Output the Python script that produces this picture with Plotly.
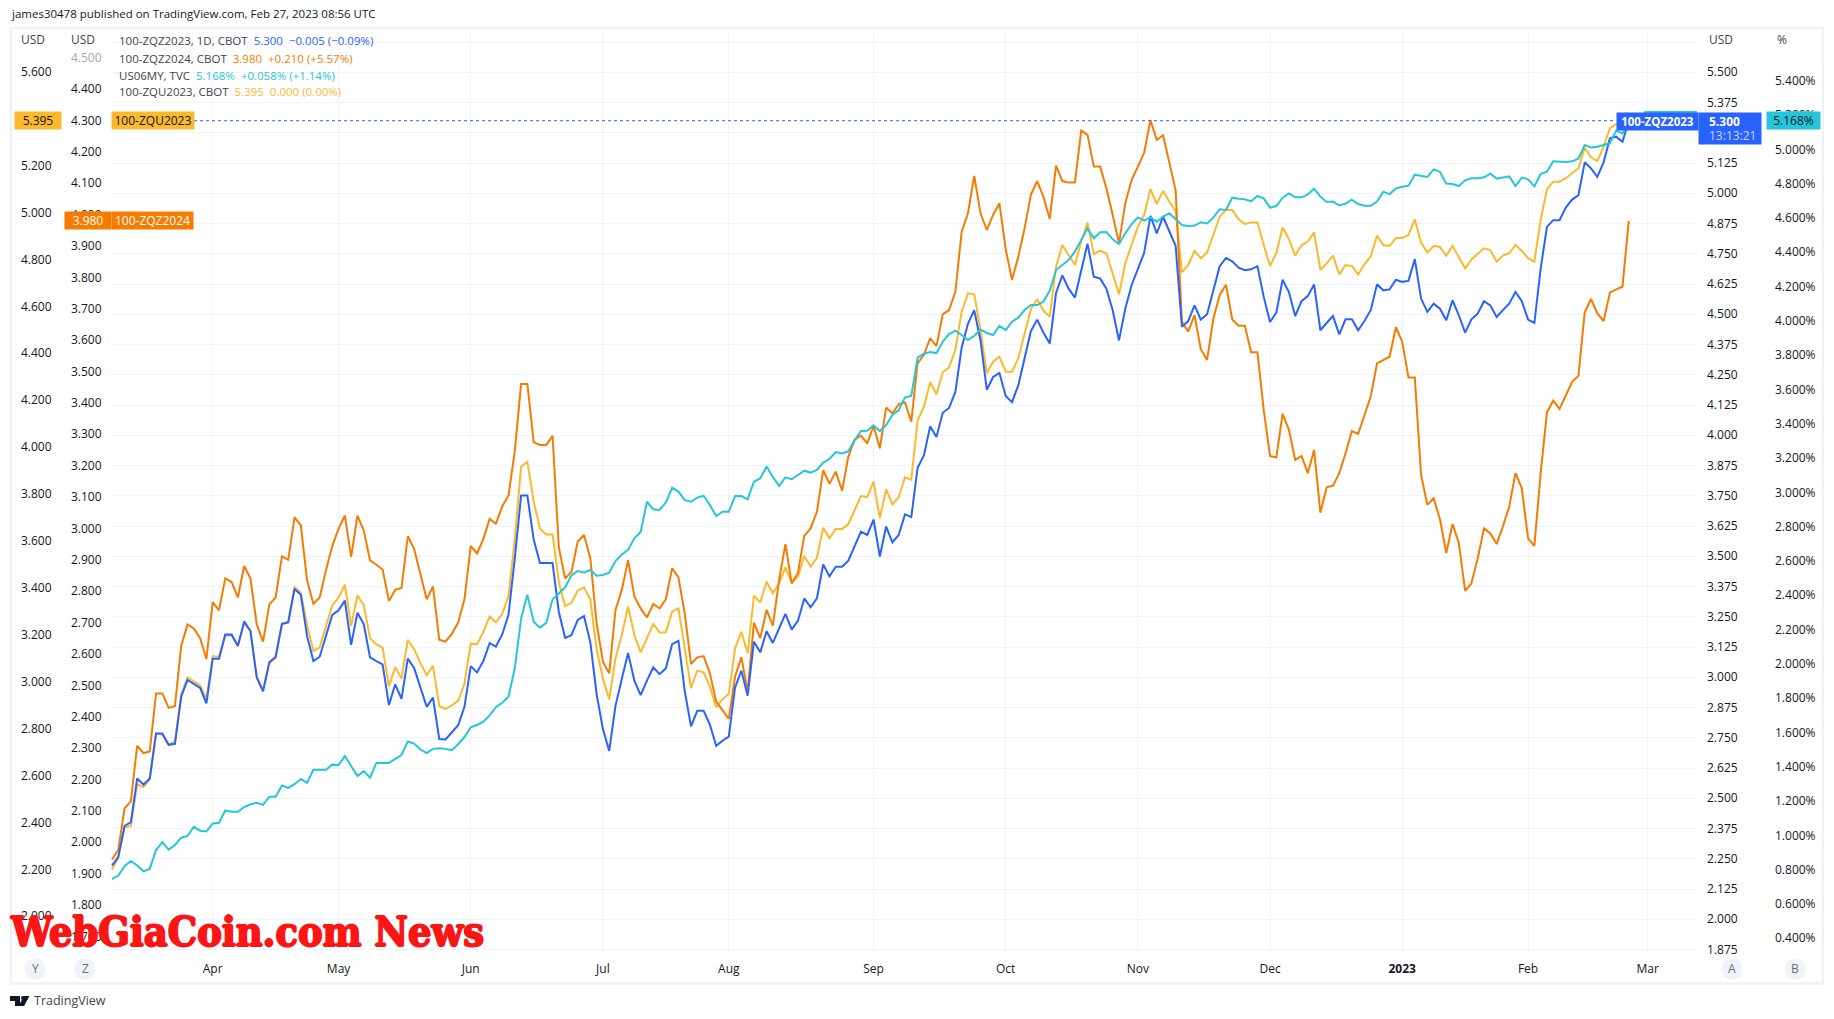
import plotly.graph_objects as go

# ---- session labels (x = trading-session number) ----
month_sessions = [16, 36, 57, 78, 98, 121, 142, 163, 184, 205, 225, 244]
month_labels = ["Apr", "May", "Jun", "Jul", "Aug", "Sep", "Oct", "Nov", "Dec", "<b>2023</b>", "Feb", "Mar"]

# ---- series values ----
zqz2024 = [
 1.945,1.976,2.108,2.130,2.308,2.284,2.289,2.474,2.474,2.428,
 2.434,2.626,2.694,2.681,2.650,2.584,2.765,2.739,2.841,2.829,
 2.780,2.880,2.840,2.694,2.639,2.758,2.780,2.911,2.900,3.035,
 3.010,2.834,2.760,2.780,2.867,2.944,2.999,3.041,2.909,3.041,
 2.993,2.898,2.884,2.869,2.769,2.804,2.810,2.975,2.935,2.854,
 2.774,2.815,2.645,2.639,2.664,2.700,2.774,2.944,2.920,2.966,
 3.030,3.015,3.070,3.105,3.246,3.460,3.460,3.275,3.266,3.266,
 3.295,2.939,2.840,2.862,2.958,2.979,2.905,2.698,2.575,2.538,
 2.740,2.804,2.899,2.783,2.745,2.716,2.759,2.745,2.774,2.873,
 2.844,2.729,2.568,2.589,2.593,2.538,2.448,2.421,2.393,2.528,
 2.589,2.480,2.700,2.650,2.740,2.690,2.836,2.950,2.825,2.859,
 2.976,3.000,3.053,3.186,3.142,3.181,3.120,3.229,3.282,3.296,
 3.271,3.327,3.255,3.385,3.367,3.396,3.401,3.340,3.526,3.553,
 3.606,3.581,3.682,3.696,3.754,3.945,4.004,4.123,4.004,3.951,
 3.999,4.036,3.890,3.792,3.866,3.956,4.063,4.107,4.057,3.986,
 4.156,4.107,4.102,4.102,4.268,4.254,4.153,4.153,4.084,3.999,
 3.909,4.036,4.110,4.153,4.197,4.301,4.238,4.253,4.169,4.078,
 3.659,3.627,3.680,3.571,3.537,3.669,3.744,3.776,3.666,3.646,
 3.646,3.561,3.561,3.377,3.231,3.226,3.365,3.314,3.218,3.231,
 3.176,3.250,3.050,3.131,3.136,3.176,3.239,3.310,3.301,3.361,
 3.420,3.526,3.537,3.547,3.641,3.595,3.481,3.481,3.170,3.075,
 3.096,3.029,2.921,3.014,2.953,2.801,2.825,2.905,3.000,2.984,
 2.950,3.006,3.069,3.176,3.128,2.968,2.944,3.176,3.370,3.407,
 3.381,3.423,3.467,3.486,3.688,3.731,3.685,3.661,3.751,3.762,
 3.770,3.980]

zqu2023 = [
 2.199,2.250,2.378,2.385,2.563,2.551,2.583,2.779,2.774,2.730,
 2.745,2.947,3.018,3.002,2.984,2.925,3.109,3.106,3.197,3.197,
 3.150,3.248,3.215,3.021,2.965,3.079,3.100,3.248,3.256,3.402,
 3.380,3.241,3.131,3.146,3.241,3.326,3.358,3.413,3.238,3.367,
 3.326,3.185,3.160,3.144,2.980,3.062,3.013,3.178,3.138,3.079,
 3.028,3.068,2.896,2.884,2.899,2.918,2.991,3.162,3.159,3.212,
 3.278,3.253,3.288,3.366,3.608,3.916,3.937,3.769,3.652,3.627,
 3.627,3.424,3.322,3.336,3.388,3.402,3.351,3.138,3.014,2.925,
 3.099,3.199,3.320,3.199,3.125,3.185,3.246,3.210,3.210,3.298,
 3.313,3.142,2.972,3.047,3.040,2.979,2.891,2.925,2.947,3.142,
 3.213,3.121,3.367,3.337,3.426,3.377,3.419,3.487,3.422,3.448,
 3.536,3.490,3.528,3.656,3.611,3.651,3.651,3.672,3.732,3.791,
 3.787,3.853,3.696,3.820,3.756,3.786,3.871,3.860,4.113,4.172,
 4.276,4.225,4.319,4.340,4.414,4.577,4.655,4.651,4.499,4.314,
 4.364,4.385,4.321,4.321,4.378,4.485,4.587,4.631,4.581,4.556,
 4.769,4.861,4.819,4.776,4.876,4.957,4.822,4.837,4.826,4.741,
 4.651,4.783,4.866,4.940,4.989,5.100,5.036,5.092,5.046,5.006,
 4.745,4.776,4.836,4.805,4.829,4.904,4.982,5.011,5.011,4.971,
 4.951,4.957,4.957,4.861,4.772,4.826,4.937,4.886,4.816,4.860,
 4.876,4.915,4.755,4.783,4.816,4.736,4.776,4.772,4.736,4.779,
 4.812,4.901,4.861,4.857,4.891,4.891,4.904,4.971,4.871,4.830,
 4.857,4.853,4.816,4.857,4.812,4.762,4.800,4.822,4.847,4.840,
 4.790,4.816,4.826,4.861,4.836,4.805,4.790,4.968,5.099,5.131,
 5.131,5.146,5.167,5.188,5.276,5.235,5.219,5.280,5.359,5.376,
 5.380,5.395]

zqz2023 = [
 2.222,2.258,2.386,2.401,2.582,2.557,2.582,2.768,2.768,2.721,
 2.725,2.921,2.989,2.973,2.956,2.892,3.077,3.077,3.177,3.177,
 3.130,3.231,3.191,2.999,2.942,3.062,3.085,3.220,3.227,3.365,
 3.341,3.170,3.067,3.085,3.177,3.258,3.277,3.317,3.134,3.267,
 3.220,3.082,3.067,3.053,2.885,2.971,2.911,3.077,3.039,2.956,
 2.878,2.916,2.745,2.743,2.771,2.802,2.878,3.046,3.020,3.067,
 3.141,3.127,3.177,3.258,3.491,3.751,3.751,3.569,3.472,3.472,
 3.472,3.270,3.163,3.174,3.237,3.253,3.144,2.931,2.786,2.696,
 2.882,2.993,3.100,2.986,2.926,2.986,3.041,3.013,3.037,3.137,
 3.151,2.944,2.797,2.862,2.862,2.804,2.717,2.738,2.755,2.958,
 3.027,2.924,3.147,3.103,3.190,3.142,3.200,3.262,3.197,3.234,
 3.326,3.289,3.326,3.466,3.417,3.457,3.457,3.482,3.542,3.602,
 3.588,3.652,3.499,3.623,3.558,3.588,3.673,3.662,3.866,3.917,
 4.037,3.993,4.093,4.113,4.179,4.362,4.461,4.517,4.392,4.188,
 4.241,4.257,4.162,4.137,4.206,4.317,4.430,4.478,4.424,4.379,
 4.588,4.661,4.606,4.569,4.682,4.792,4.655,4.648,4.606,4.517,
 4.392,4.523,4.620,4.689,4.754,4.907,4.834,4.903,4.841,4.783,
 4.448,4.472,4.537,4.478,4.500,4.599,4.699,4.733,4.719,4.693,
 4.682,4.686,4.699,4.572,4.468,4.507,4.643,4.592,4.493,4.554,
 4.575,4.623,4.434,4.464,4.493,4.417,4.479,4.479,4.434,4.472,
 4.517,4.624,4.599,4.603,4.643,4.634,4.638,4.728,4.565,4.510,
 4.544,4.523,4.475,4.558,4.496,4.424,4.479,4.503,4.554,4.537,
 4.489,4.517,4.544,4.592,4.554,4.478,4.464,4.689,4.861,4.889,
 4.889,4.941,4.974,4.992,5.128,5.103,5.068,5.128,5.227,5.234,
 5.213,5.300]

us06my = [
 0.745,0.765,0.820,0.850,0.824,0.790,0.804,0.914,0.960,0.916,
 0.944,0.986,0.996,1.049,1.027,1.022,1.069,1.073,1.145,1.137,
 1.137,1.165,1.181,1.189,1.177,1.225,1.225,1.290,1.276,1.298,
 1.328,1.306,1.382,1.382,1.382,1.412,1.410,1.462,1.402,1.346,
 1.374,1.336,1.422,1.422,1.422,1.446,1.468,1.547,1.535,1.500,
 1.480,1.504,1.508,1.504,1.496,1.531,1.573,1.629,1.643,1.663,
 1.699,1.747,1.773,1.808,1.974,2.265,2.402,2.245,2.211,2.239,
 2.376,2.410,2.446,2.516,2.541,2.533,2.547,2.514,2.518,2.531,
 2.599,2.638,2.664,2.732,2.770,2.945,2.901,2.897,2.940,3.027,
 3.004,2.955,2.945,2.969,2.980,2.926,2.862,2.887,2.887,2.978,
 2.978,2.959,3.062,3.081,3.150,3.091,3.037,3.087,3.076,3.101,
 3.126,3.115,3.130,3.173,3.194,3.235,3.227,3.239,3.305,3.357,
 3.359,3.391,3.357,3.392,3.451,3.480,3.554,3.562,3.785,3.808,
 3.818,3.812,3.878,3.923,3.943,3.917,3.888,3.913,3.950,3.929,
 3.917,3.970,3.946,3.995,4.018,4.063,4.092,4.092,4.112,4.176,
 4.296,4.325,4.355,4.403,4.471,4.539,4.481,4.516,4.518,4.475,
 4.448,4.510,4.563,4.603,4.584,4.603,4.578,4.607,4.627,4.594,
 4.559,4.553,4.555,4.574,4.568,4.603,4.650,4.646,4.718,4.712,
 4.708,4.697,4.728,4.714,4.660,4.669,4.718,4.743,4.720,4.720,
 4.737,4.770,4.724,4.693,4.695,4.673,4.683,4.706,4.681,4.671,
 4.671,4.695,4.753,4.739,4.772,4.782,4.788,4.852,4.844,4.839,
 4.883,4.868,4.800,4.798,4.786,4.819,4.831,4.831,4.837,4.858,
 4.829,4.837,4.842,4.786,4.835,4.825,4.784,4.856,4.870,4.930,
 4.928,4.926,4.930,4.945,5.025,5.010,5.015,5.025,5.035,5.109,
 5.093,5.168]

# ---- axis tick values ----
ticks_zqu = [5.6, 5.4, 5.2, 5.0, 4.8, 4.6, 4.4, 4.2, 4.0, 3.8, 3.6, 3.4, 3.2, 3.0, 2.8, 2.6, 2.4, 2.2, 2.0]
ticks_z24 = [4.5, 4.4, 4.3, 4.2, 4.1, 4.0, 3.9, 3.8, 3.7, 3.6, 3.5, 3.4, 3.3, 3.2, 3.1, 3.0, 2.9, 2.8, 2.7, 2.6,
             2.5, 2.4, 2.3, 2.2, 2.1, 2.0, 1.9, 1.8, 1.7]
ticks_z23 = [5.625, 5.5, 5.375, 5.25, 5.125, 5.0, 4.875, 4.75, 4.625, 4.5, 4.375, 4.25, 4.125, 4.0, 3.875, 3.75,
             3.625, 3.5, 3.375, 3.25, 3.125, 3.0, 2.875, 2.75, 2.625, 2.5, 2.375, 2.25, 2.125, 2.0, 1.875]
ticks_pct = [5.4, 5.2, 5.0, 4.8, 4.6, 4.4, 4.2, 4.0, 3.8, 3.6, 3.4, 3.2, 3.0, 2.8, 2.6, 2.4, 2.2, 2.0, 1.8, 1.6,
             1.4, 1.2, 1.0, 0.8, 0.6, 0.4]

W, H = 1834, 1019
BLUE, ORANGE, TEAL, YELLOW = "#2962ff", "#f57c00", "#26c6da", "#fbb92d"
INK, LEG, GRID, FRAME = "#131722", "#3f434f", "#f0f3fa", "#eff1f7"
FONT = "Open Sans"

def fx(p): return p / W
def fy(p): return 1 - p / H

PANE_L, PANE_R, PANE_T, PANE_B = 110, 1698, 29, 953

fig = go.Figure()
for name, ys, col, ax in [("100-ZQU2023", zqu2023, YELLOW, "y"),
                          ("100-ZQZ2024", zqz2024, ORANGE, "y2"),
                          ("100-ZQZ2023", zqz2023, BLUE, "y3"),
                          ("US06MY", us06my, TEAL, "y4")]:
    fig.add_trace(go.Scatter(x=list(range(len(ys))), y=ys, name=name, mode="lines", yaxis=ax,
                             line=dict(color=col, width=2, shape="linear"), hoverinfo="skip"))

tick = dict(showline=False, ticks="", zeroline=False, automargin=False,
            tickfont=dict(family=FONT, size=12, color=INK))
dom_y = [fy(PANE_B), fy(PANE_T)]
z24_text = [f'<span style="color:#a3a6ad">{v:.3f}</span>' if v == 4.5 else f"{v:.3f}" for v in ticks_z24]
z23_text = ["" if v == 5.625 else f"{v:.3f}" for v in ticks_z23]
pct_text = [f"{v:.3f}%" for v in ticks_pct]
layout = dict(
    width=W, height=H, margin=dict(l=0, r=0, t=0, b=0, autoexpand=False), showlegend=False,
    paper_bgcolor="white", plot_bgcolor="white",
    xaxis=dict(domain=[fx(PANE_L), fx(PANE_R)], range=[-0.318, 252.0], tickmode="array",
               tickvals=month_sessions, ticktext=month_labels, showgrid=True, gridcolor=GRID, gridwidth=1,
               ticklabelstandoff=7, anchor="y", **tick),
    yaxis=dict(domain=dom_y, range=[1.8434, 5.782], tickmode="array", tickvals=ticks_zqu, tickformat=".3f",
               anchor="free", position=fx(51.5), side="left", showgrid=False, **tick),
    yaxis2=dict(overlaying="y", range=[1.6469, 4.5915], tickmode="array", tickvals=ticks_z24, ticktext=z24_text,
                anchor="free", position=fx(101.5), side="left", showgrid=False, **tick),
    yaxis3=dict(overlaying="y", range=[1.8607, 5.6789], tickmode="array", tickvals=ticks_z23, ticktext=z23_text,
                anchor="free", position=fx(1706), side="right", showgrid=True, gridcolor=GRID, gridwidth=1, **tick),
    yaxis4=dict(overlaying="y", range=[0.3137, 5.7015], tickmode="array", tickvals=ticks_pct, ticktext=pct_text,
                anchor="free", position=fx(1774), side="right", showgrid=False, **tick),
)
fig.update_layout(**layout)

shapes = []
def rect(x0, y0, x1, y1, fill=None, line=None, lw=0, layer="above"):
    shapes.append(dict(type="rect", xref="paper", yref="paper", x0=fx(x0), x1=fx(x1), y0=fy(y0), y1=fy(y1),
                       fillcolor=fill or "rgba(0,0,0,0)", line=dict(color=line or "rgba(0,0,0,0)", width=lw), layer=layer))
def circle(cx, cy, r, fill):
    shapes.append(dict(type="circle", xref="paper", yref="paper", x0=fx(cx-r), x1=fx(cx+r), y0=fy(cy-r), y1=fy(cy+r),
                       fillcolor=fill, line=dict(width=0), layer="above"))
def path(pts, fill):
    d = "M" + " L".join(f"{fx(a):.5f},{fy(b):.5f}" for a, b in pts) + " Z"
    shapes.append(dict(type="path", xref="paper", yref="paper", path=d, fillcolor=fill, line=dict(width=0), layer="above"))

# frame
rect(11, 28, 1823, 983.5, line=FRAME, lw=2.5)
# last-price dotted line of the main series
shapes.append(dict(type="line", xref="paper", yref="y3", x0=fx(194), x1=fx(1616), y0=5.3, y1=5.3,
                   line=dict(color=BLUE, width=1, dash="dot"), layer="above"))
# teal chip peeking out behind the blue label
rect(1644, 111, 1697, 130, fill=TEAL)
# time-scale buttons
for cx in (35, 85, 1732, 1795):
    circle(cx, 969, 10.5, "#f0f3fa")
# TradingView logo
path([(10, 996), (20, 996), (20, 1006), (15, 1006), (15, 1001), (10, 1001)], INK)
circle(23, 998, 2, INK)
path([(24, 1006), (18.5, 1006), (24, 996), (29.5, 996)], INK)
fig.update_layout(shapes=shapes)

notes = []
def text(x, y, s, size=12, color=INK, anchor="left", family=FONT, **kw):
    font = dict(family=family, size=size, color=color)
    font.update(kw.pop("fontextra", {}))
    notes.append(dict(xref="paper", yref="paper", x=fx(x), y=fy(y - 1), text=s, showarrow=False, xanchor=anchor,
                      yanchor="middle", font=font, borderpad=0, **kw))
def chip(x0, y0, x1, y1, s, bg, color, size=12):
    notes.append(dict(xref="paper", yref="paper", x=fx(x0), y=fy(y0 - 1), xanchor="left", yanchor="top", text=s,
                      showarrow=False, width=x1-x0, height=y1-y0, bgcolor=bg, borderpad=0, align="center", valign="middle",
                      font=dict(family=FONT, size=size, color=color)))

text(10, 15, "james30478 published on TradingView.com, Feb 27, 2023 08:56 UTC", size=11.5)
text(20, 41, "USD", color=LEG); text(70, 41, "USD", color=LEG)
text(1708, 41, "USD", color=LEG); text(1776, 41, "%", color=LEG)

def leg(y, head, col, rest):
    text(118, y, f'<span style="color:{LEG}">{head}</span>  <span style="color:{col}">{rest}</span>', size=11.5)
leg(41.5, "100-ZQZ2023, 1D, CBOT", BLUE, "5.300  −0.005 (−0.09%)")
leg(59, "100-ZQZ2024, CBOT", ORANGE, "3.980  +0.210 (+5.57%)")
leg(76, "US06MY, TVC", TEAL, "5.168%  +0.058% (+1.14%)")
leg(93, "100-ZQU2023, CBOT", YELLOW, "5.395  0.000 (0.00%)")

chip(14, 112, 60, 129, "5.395", YELLOW, INK)
chip(111, 112, 193, 129, "100-ZQU2023", YELLOW, INK)
chip(64, 212, 110, 229, "3.980", ORANGE, "white")
chip(111, 212, 192, 229, "100-ZQZ2024", ORANGE, "white")
chip(1616, 113, 1697, 130, "<b>100-ZQZ2023</b>", BLUE, "white", size=11.5)
chip(1698, 113, 1760, 144, " ", BLUE, "white")
text(1708, 122, "<b>5.300</b>", color="white")
text(1708, 136, "13:13:21", color="#c9d6ff")
chip(1766, 112, 1819, 129, "5.168%", TEAL, INK)

for cx, s in ((35, "Y"), (85, "Z"), (1732, "A"), (1795, "B")):
    text(cx, 969, s, color="#6a6d78", anchor="center")
text(33, 1001, "TradingView", size=12.5, color=LEG)

RED = "#fb1616"
text(9, 933, "<b>WebGiaCoin.com News</b>", size=41, color=RED, family="DejaVu Serif Condensed",
     fontextra=dict(shadow=f"1px 0 0 {RED}, -1px 0 0 {RED}, 0 1px 0 {RED}, 0 -1px 0 {RED}"))
fig.update_layout(annotations=notes)

fig.write_html("out.html", config={"displayModeBar": False},
               post_script="document.body.style.margin='0';")
